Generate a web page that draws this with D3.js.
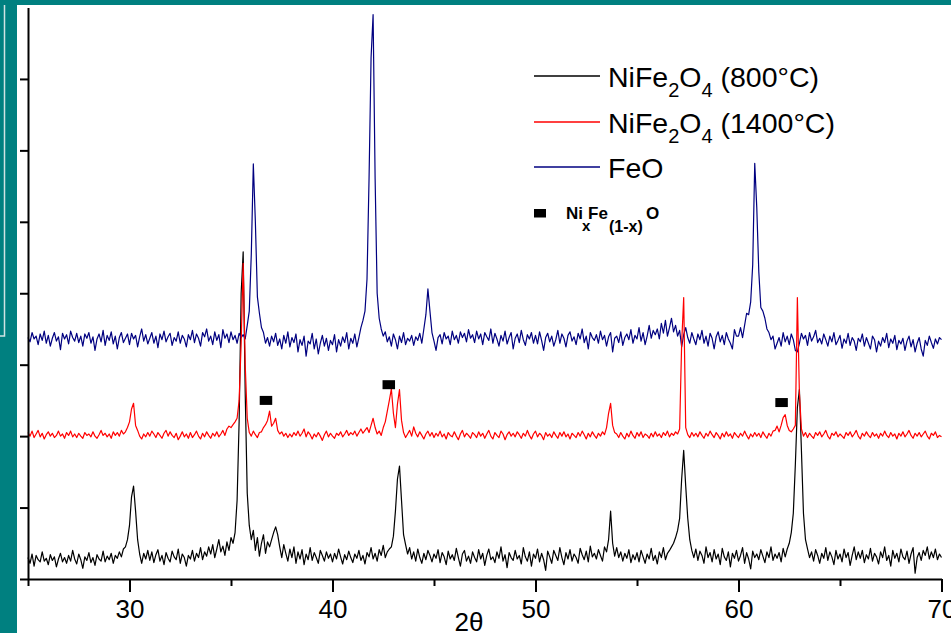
<!DOCTYPE html>
<html>
<head>
<meta charset="utf-8">
<script src="https://cdn.jsdelivr.net/npm/d3@7"></script>
<style>
  html, body { margin: 0; padding: 0; background: #008080; overflow: hidden; }
  svg { display: block; }
  text { font-family: "Liberation Sans", Arial, sans-serif; fill: #000; }
</style>
</head>
<body>
<div id="wrapper"></div>
<script>
// 2theta grid of the scans
const startAngle = 25;
const stepAngle = 0.1;

const xTicks = [30, 40, 50, 60, 70];
const xMinorTicks = [25, 35, 45, 55, 65];
const yTicks = [0, 100, 200, 300, 400, 500, 600, 700];

// intensities (arb. units, curves already offset), one value per 0.1 deg from 25 to 70
const nife800 = [
  30, 22, 35, 18, 33, 27, 24, 38, 25, 29,   // 25
  20, 34, 26, 31, 17, 28, 36, 24, 30, 22,   // 26
  33, 25, 40, 28, 21, 35, 27, 15, 31, 26,   // 27
  37, 23, 30, 19, 34, 28, 25, 39, 24, 32,   // 28
  27, 36, 22, 33, 29, 38, 31, 42, 45, 55,   // 29
  75, 115, 130, 95, 55, 35, 22, 36, 28, 40, // 30
  26, 38, 23, 34, 41, 25, 33, 20, 37, 29,   // 31
  24, 39, 31, 27, 42, 22, 35, 30, 18, 33,   // 32
  28, 40, 25, 36, 30, 44, 27, 38, 32, 45,   // 33
  35, 48, 30, 42, 55, 38, 46, 33, 52, 40,   // 34
  58, 50, 65, 110, 220, 400, 458, 260, 120, 75, // 35
  55, 68, 40, 58, 32, 50, 62, 36, 52, 45,   // 36
  55, 65, 73, 62, 45, 30, 48, 36, 25, 42,   // 37
  30, 45, 22, 38, 28, 41, 20, 35, 27, 44,   // 38
  26, 37, 30, 22, 40, 33, 25, 38, 29, 35,   // 39
  24, 36, 28, 42, 31, 21, 34, 27, 39, 30,   // 40
  23, 35, 29, 40, 26, 33, 21, 37, 31, 44,   // 41
  28, 36, 25, 41, 33, 47, 30, 38, 42, 45,   // 42
  60, 95, 140, 158, 110, 62, 48, 35, 44, 28, // 43
  38, 25, 42, 30, 22, 36, 27, 40, 33, 24,   // 44
  35, 29, 41, 23, 37, 31, 20, 39, 28, 34,   // 45
  26, 43, 30, 18, 35, 40, 25, 32, 22, 38,   // 46
  30, 24, 41, 28, 36, 19, 33, 42, 27, 31,   // 47
  23, 38, 29, 45, 25, 34, 16, 37, 30, 26,   // 48
  40, 28, 33, 21, 44, 31, 25, 38, 18, 35,   // 49
  29, 42, 24, 36, 27, 12, 39, 31, 22, 40,   // 50
  33, 26, 44, 30, 20, 37, 28, 41, 25, 35,   // 51
  30, 22, 43, 34, 27, 39, 24, 46, 31, 36,   // 52
  28, 41, 33, 25, 45, 38, 55, 95, 50, 32,   // 53
  44, 30, 38, 25, 36, 29, 41, 23, 34, 27,   // 54
  37, 24, 40, 31, 22, 35, 28, 43, 26, 33,   // 55
  21, 38, 30, 44, 27, 36, 40, 45, 50, 58,   // 56
  68, 85, 140, 180, 130, 85, 55, 40, 30, 42, // 57
  26, 39, 33, 22, 45, 30, 37, 24, 41, 28,   // 58
  35, 20, 43, 31, 26, 38, 17, 36, 29, 40,   // 59
  25, 33, 44, 22, 37, 28, 14, 39, 30, 35,   // 60
  27, 41, 32, 23, 38, 30, 45, 26, 35, 29,   // 61
  37, 24, 43, 31, 42, 50, 65, 92, 160, 240, // 62
  265, 180, 92, 55, 42, 30, 38, 25, 41, 33, // 63
  22, 36, 29, 44, 26, 38, 31, 20, 40, 28,   // 64
  35, 24, 42, 30, 37, 19, 33, 45, 27, 38,   // 65
  29, 40, 23, 34, 28, 43, 25, 36, 31, 21,   // 66
  38, 30, 45, 26, 33, 18, 40, 29, 36, 24,   // 67
  42, 31, 27, 39, 22, 35, 44, 8, 30, 37,    // 68
  26, 40, 33, 45, 28, 38, 30, 42, 27, 35,   // 69
  30                                        // 70
];

const nife1400 = [
  205, 200, 207, 198, 203, 208, 199, 204, 196, 202, // 25
  206, 200, 204, 198, 201, 207, 200, 203, 197, 205, // 26
  201, 207, 199, 203, 198, 204, 200, 197, 205, 201, // 27
  203, 199, 206, 200, 197, 202, 208, 201, 204, 199, // 28
  203, 197, 206, 201, 205, 200, 208, 203, 206, 212, // 29
  220, 238, 246, 215, 208, 200, 196, 203, 199, 205, // 30
  200, 207, 203, 198, 205, 201, 197, 204, 208, 200, // 31
  206, 201, 198, 204, 195, 200, 206, 199, 203, 197, // 32
  205, 198, 202, 207, 200, 196, 204, 199, 206, 201, // 33
  197, 204, 200, 206, 199, 203, 208, 201, 210, 214, // 34
  212, 216, 220, 225, 250, 330, 442, 300, 225, 205, // 35
  200, 207, 202, 198, 205, 206, 212, 216, 222, 235, // 36
  214, 218, 225, 208, 203, 206, 200, 204, 198, 203, // 37
  199, 205, 201, 207, 200, 204, 210, 199, 206, 202, // 38
  196, 203, 199, 205, 200, 194, 202, 207, 199, 204, // 39
  200, 197, 204, 201, 206, 199, 203, 208, 201, 205, // 40
  202, 207, 200, 205, 210, 204, 208, 212, 205, 215, // 41
  225, 212, 203, 207, 201, 212, 220, 235, 250, 266, // 42
  232, 212, 245, 265, 222, 205, 198, 203, 208, 200, // 43
  213, 204, 199, 206, 201, 196, 203, 207, 200, 205, // 44
  198, 204, 200, 207, 199, 203, 196, 205, 201, 199, // 45
  206, 200, 195, 203, 208, 199, 204, 201, 197, 205, // 46
  202, 198, 206, 200, 204, 197, 203, 208, 200, 196, // 47
  205, 201, 198, 207, 203, 195, 202, 206, 200, 204, // 48
  199, 206, 202, 197, 204, 200, 208, 201, 196, 203, // 49
  207, 199, 204, 201, 195, 205, 200, 203, 198, 206, // 50
  201, 197, 205, 200, 206, 199, 203, 196, 204, 201, // 51
  198, 205, 200, 207, 202, 196, 204, 199, 206, 201, // 52
  197, 204, 200, 206, 202, 212, 232, 246, 215, 205, // 53
  203, 198, 205, 200, 196, 204, 199, 207, 201, 197, // 54
  205, 200, 206, 198, 203, 201, 197, 204, 199, 206, // 55
  200, 203, 198, 205, 201, 207, 199, 204, 201, 206, // 56
  203, 210, 330, 394, 212, 202, 198, 205, 200, 204, // 57
  199, 206, 201, 197, 204, 200, 207, 202, 198, 205, // 58
  201, 196, 204, 199, 206, 200, 203, 197, 205, 201, // 59
  198, 204, 200, 207, 201, 196, 203, 199, 205, 200, // 60
  204, 198, 206, 201, 197, 204, 200, 207, 208, 214, // 61
  206, 215, 226, 230, 215, 208, 206, 210, 215, 394, // 62
  260, 210, 200, 205, 198, 204, 200, 197, 205, 201, // 63
  206, 199, 203, 208, 200, 196, 204, 201, 206, 199, // 64
  203, 200, 197, 205, 201, 206, 199, 203, 208, 200, // 65
  196, 204, 200, 206, 201, 198, 205, 200, 203, 197, // 66
  204, 200, 207, 201, 198, 205, 200, 203, 196, 204, // 67
  200, 206, 199, 203, 208, 201, 197, 204, 200, 205, // 68
  199, 203, 207, 200, 196, 204, 201, 206, 198, 201, // 69
  199                                               // 70
];

const feo = [
  338, 332, 345, 336, 340, 328, 343, 334, 347, 330, // 25
  341, 326, 337, 345, 333, 339, 321, 344, 336, 342, // 26
  329, 347, 338, 333, 344, 331, 340, 326, 343, 337, // 27
  345, 330, 339, 320, 336, 343, 332, 348, 327, 341, // 28
  334, 346, 329, 340, 322, 338, 345, 331, 337, 343, // 29
  328, 344, 336, 341, 325, 339, 350, 333, 342, 329, // 30
  337, 345, 330, 340, 324, 343, 335, 347, 332, 339, // 31
  344, 327, 338, 333, 346, 330, 341, 336, 325, 342, // 32
  335, 348, 331, 343, 337, 326, 345, 339, 350, 333, // 33
  340, 328, 346, 334, 342, 324, 349, 337, 343, 331, // 34
  346, 335, 341, 330, 344, 338, 342, 336, 355, 375, // 35
  455, 581, 500, 395, 372, 352, 345, 330, 338, 326, // 36
  340, 332, 344, 327, 336, 322, 341, 330, 346, 325, // 37
  338, 331, 343, 318, 335, 327, 340, 312, 333, 329, // 38
  344, 322, 336, 315, 330, 341, 326, 337, 320, 334, // 39
  328, 342, 318, 335, 326, 339, 331, 345, 322, 337, // 40
  330, 343, 325, 338, 352, 362, 375, 420, 560, 730, // 41
  790, 560, 400, 365, 350, 340, 346, 332, 339, 326, // 42
  343, 335, 322, 340, 331, 345, 328, 337, 333, 341, // 43
  327, 339, 334, 344, 330, 350, 370, 406, 375, 345, // 44
  333, 320, 338, 342, 329, 345, 336, 340, 328, 347, // 45
  335, 341, 330, 346, 338, 344, 332, 349, 337, 342, // 46
  331, 347, 336, 343, 328, 345, 339, 334, 350, 330, // 47
  344, 336, 326, 341, 333, 347, 329, 338, 345, 322, // 48
  337, 343, 331, 348, 335, 327, 342, 336, 345, 330, // 49
  341, 329, 346, 334, 320, 338, 344, 332, 340, 326, // 50
  335, 348, 330, 343, 337, 325, 341, 346, 333, 339, // 51
  328, 344, 336, 350, 331, 340, 322, 345, 338, 334, // 52
  342, 330, 347, 335, 341, 326, 339, 345, 318, 337, // 53
  340, 331, 346, 327, 338, 343, 335, 349, 330, 341, // 54
  336, 352, 333, 345, 328, 340, 355, 337, 348, 342, // 55
  350, 336, 358, 344, 362, 340, 352, 365, 346, 355, // 56
  340, 348, 325, 342, 352, 338, 330, 345, 336, 328, // 57
  343, 335, 348, 330, 340, 326, 344, 337, 322, 339, // 58
  346, 332, 341, 328, 345, 336, 330, 322, 349, 340, // 59
  340, 352, 338, 355, 372, 370, 388, 440, 582, 520, // 60
  430, 380, 375, 365, 350, 345, 335, 340, 322, 330, // 61
  338, 326, 345, 332, 340, 328, 343, 335, 320, 318, // 62
  330, 344, 336, 341, 327, 345, 333, 339, 348, 331, // 63
  337, 329, 343, 335, 326, 340, 332, 345, 328, 334, // 64
  341, 323, 336, 330, 344, 327, 338, 333, 320, 337, // 65
  332, 343, 326, 338, 330, 322, 340, 335, 318, 333, // 66
  326, 338, 331, 344, 324, 336, 330, 341, 321, 334, // 67
  329, 337, 320, 333, 340, 325, 335, 318, 330, 338, // 68
  322, 312, 334, 327, 340, 331, 323, 336, 329, 338, // 69
  335                                               // 70
];

// Ni(x)Fe(1-x)O reflections marked on the 1400 C pattern
const markerAngles = [36.72, 42.77, 62.12];
const markerLevels = [250, 272, 247];

const seriesNames = ["NiFe2O4 (800°C)", "NiFe2O4 (1400°C)", "FeO"];
const seriesColors = ["#000000", "#ff0000", "#000080"];

const width = 951, height = 633;

const svg = d3.select("#wrapper")
  .append("svg")
  .attr("width", width)
  .attr("height", height);

// teal slide frame + white plot panel
svg.append("rect").attr("width", width).attr("height", height).attr("fill", "#008080");
svg.append("rect").attr("x", 17).attr("y", 5).attr("width", width - 17).attr("height", height - 5).attr("fill", "#fff");
svg.append("path").attr("d", "M4.5,5V336H0").attr("fill", "none").attr("stroke", "#cfe3e3").attr("stroke-width", 1.5);

const x = d3.scaleLinear().domain([25, 70]).range([28, 941.5]);
const y = d3.scaleLinear().domain([0, 800]).range([579, 7.5]);

const angleAt = i => startAngle + i * stepAngle;

const line = d3.line()
  .x((d, i) => x(angleAt(i)))
  .y(d => y(d));

// draw order: black, blue, red
const drawOrder = [0, 2, 1];
const allSeries = [nife800, nife1400, feo];
drawOrder.forEach(k => {
  svg.append("path")
    .datum(allSeries[k])
    .attr("fill", "none")
    .attr("stroke", seriesColors[k])
    .attr("stroke-width", 1.2)
    .attr("stroke-linejoin", "round")
    .attr("d", line);
});

svg.selectAll("rect.marker")
  .data(markerAngles)
  .enter()
  .append("rect")
  .attr("class", "marker")
  .attr("x", d => x(d) - 6.2)
  .attr("y", (d, i) => y(markerLevels[i]) - 4.5)
  .attr("width", 12.5)
  .attr("height", 9)
  .attr("fill", "#000");

// axes
const xAxis = svg.append("g")
  .attr("transform", `translate(0,${y(0)})`)
  .call(d3.axisBottom(x).tickValues(xTicks).tickFormat(d3.format("d")).tickSize(13).tickSizeOuter(0).tickPadding(8));
xAxis.select(".domain").attr("stroke-width", 2);
xAxis.selectAll(".tick line").attr("stroke-width", 2);
xAxis.selectAll(".tick text")
  .style("font-family", "'Liberation Sans', Arial, sans-serif")
  .style("font-size", "26px")
  .attr("fill", "#000");

const xMinor = svg.append("g")
  .attr("transform", `translate(0,${y(0)})`)
  .call(d3.axisBottom(x).tickValues(xMinorTicks).tickFormat("").tickSize(7).tickSizeOuter(0));
xMinor.select(".domain").remove();
xMinor.selectAll(".tick line").attr("stroke-width", 2);

const yAxis = svg.append("g")
  .attr("transform", `translate(${x(25)},0)`)
  .call(d3.axisLeft(y).tickValues(yTicks).tickFormat("").tickSize(8).tickSizeOuter(0));
yAxis.select(".domain").attr("stroke-width", 2);
yAxis.selectAll(".tick line").attr("stroke-width", 2);

svg.append("text")
  .attr("x", 469)
  .attr("y", 631)
  .attr("text-anchor", "middle")
  .style("font-size", "26px")
  .text("2θ");

// legend
const legendRows = [76, 122, 167];
const legend = svg.append("g");
seriesNames.forEach((name, i) => {
  legend.append("line")
    .attr("x1", 534).attr("x2", 600)
    .attr("y1", legendRows[i]).attr("y2", legendRows[i])
    .style("stroke", seriesColors[i])
    .attr("stroke-width", 1.3);
  const t = legend.append("text")
    .attr("x", 608)
    .attr("y", legendRows[i] + 10.5)
    .style("font-size", "28.5px");
  // chemical formula with subscripts
  const m = name.match(/^NiFe2O4 (.*)$/);
  if (m) {
    t.append("tspan").text("NiFe");
    t.append("tspan").attr("dy", 10).style("font-size", "20px").text("2");
    t.append("tspan").attr("dy", -10).text("O");
    t.append("tspan").attr("dy", 10).style("font-size", "20px").text("4");
    t.append("tspan").attr("dy", -10).text(" " + m[1]);
  } else {
    t.text(name);
  }
});

legend.append("rect")
  .attr("x", 534).attr("y", 209)
  .attr("width", 12).attr("height", 8.5)
  .attr("fill", "#000");

const phase = legend.append("g").style("font-weight", "bold");
phase.append("text").attr("x", 566).attr("y", 219).style("font-size", "17px").text("Ni");
phase.append("text").attr("x", 582).attr("y", 231).style("font-size", "15px").text("x");
phase.append("text").attr("x", 588).attr("y", 219).style("font-size", "17px").text("Fe");
phase.append("text").attr("x", 609).attr("y", 232).style("font-size", "16px").text("(1-x)");
phase.append("text").attr("x", 646).attr("y", 219).style("font-size", "17px").text("O");
</script>
</body>
</html>
